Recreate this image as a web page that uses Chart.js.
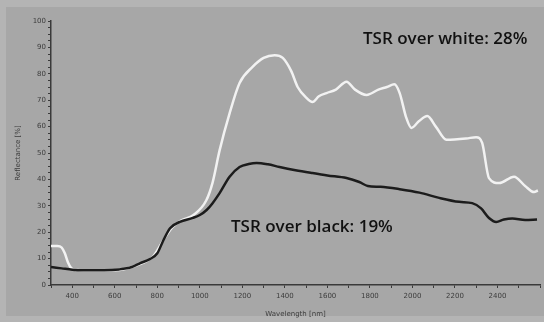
<!DOCTYPE html>
<html>
<head>
<meta charset="utf-8">
<script src="https://cdn.jsdelivr.net/npm/chart.js@4/dist/chart.umd.min.js"></script>
<style>
  html, body { margin: 0; padding: 0; background: #b4b4b4; }
  #wrap { width: 544px; height: 322px; }
</style>
</head>
<body>
<div id="wrap"><canvas id="spectrum" width="544" height="322"></canvas></div>
<script>
// Reflectance spectra
const whiteWavelengths = [300, 330, 350, 365, 380, 395, 420, 500, 600, 700, 780, 830, 870, 910, 970, 1030, 1060, 1093, 1140, 1187, 1248, 1300, 1352, 1390, 1430, 1460, 1500, 1530, 1560, 1596, 1640, 1690, 1730, 1784, 1840, 1880, 1915, 1940, 1970, 1995, 2030, 2070, 2110, 2160, 2253, 2300, 2328, 2360, 2408, 2478, 2530, 2572, 2590];
const whiteReflectance = [14.8, 14.8, 14.2, 12, 8.5, 6.4, 5.7, 5.5, 5.6, 7.4, 10.8, 17.2, 21.8, 24.3, 26.5, 32, 38.8, 51, 65, 76.5, 82.6, 86, 87, 86, 81, 75, 71, 69.3, 71.5, 72.7, 74, 77, 74, 72, 74, 75, 76, 72.7, 63.6, 59.5, 62, 64, 60, 55, 55.5, 56, 53.8, 40.5, 38.6, 41, 37.5, 35.2, 35.8];

const blackWavelengths = [300, 350, 400, 450, 550, 620, 680, 720, 765, 800, 826, 860, 906, 967, 1000, 1032, 1060, 1093, 1140, 1187, 1230, 1267, 1320, 1375, 1450, 1530, 1600, 1690, 1750, 1790, 1850, 1940, 2033, 2126, 2220, 2281, 2323, 2360, 2394, 2430, 2470, 2530, 2586];
const blackReflectance = [6.8, 6.3, 5.8, 5.6, 5.6, 5.9, 6.8, 8.3, 9.8, 12, 16.5, 21.5, 23.9, 25.4, 26.5, 28.4, 31, 34.8, 41, 44.7, 45.8, 46.2, 45.7, 44.7, 43.5, 42.4, 41.5, 40.5, 39, 37.5, 37.2, 36.3, 35, 33, 31.5, 31, 29, 25.4, 23.9, 24.8, 25.2, 24.6, 24.8];

const xLabelTicks = [400, 600, 800, 1000, 1200, 1400, 1600, 1800, 2000, 2200, 2400];
const yLabelTicks = [0, 10, 20, 30, 40, 50, 60, 70, 80, 90, 100];

const notes = [
  { text: 'TSR over white: 28%', x: 363, y: 39 },
  { text: 'TSR over black: 19%', x: 231, y: 227 }
];

function toPoints(xs, ys) {
  return xs.map((x, i) => ({ x: x, y: ys[i] }));
}

// Background frame and the TSR notes
const framePlugin = {
  id: 'frame',
  beforeDraw(chart) {
    const ctx = chart.ctx;
    ctx.save();
    ctx.fillStyle = '#b4b4b4';
    ctx.fillRect(0, 0, chart.width, chart.height);
    ctx.fillStyle = '#a7a7a7';
    ctx.fillRect(6, 7, chart.width - 6, chart.height - 13);
    ctx.restore();
  },
  afterDraw(chart) {
    const ctx = chart.ctx;
    ctx.save();
    ctx.fillStyle = '#111111';
    ctx.font = '600 17px "Open Sans"';
    ctx.textBaseline = 'middle';
    notes.forEach(n => ctx.fillText(n.text, n.x, n.y));
    ctx.restore();
  }
};

const tickFont = { family: 'DejaVu Sans', size: 7 };

new Chart(document.getElementById('spectrum'), {
  type: 'line',
  data: {
    datasets: [
      {
        label: 'over black',
        data: toPoints(blackWavelengths, blackReflectance),
        borderColor: '#1c1c1c',
        borderWidth: 2.5,
        pointRadius: 0,
        tension: 0.4,
        cubicInterpolationMode: 'monotone',
        order: 1
      },
      {
        label: 'over white',
        data: toPoints(whiteWavelengths, whiteReflectance),
        borderColor: '#f2f2f2',
        borderWidth: 2.5,
        pointRadius: 0,
        tension: 0.4,
        cubicInterpolationMode: 'monotone',
        order: 2
      }
    ]
  },
  options: {
    responsive: false,
    animation: false,
    layout: { padding: { left: 0, top: 21, right: 4, bottom: 0 } },
    plugins: { legend: { display: false }, tooltip: { enabled: false } },
    scales: {
      x: {
        type: 'linear',
        min: 300,
        max: 2600,
        afterFit(scale) { scale.height = 37; },
        ticks: {
          stepSize: 100,
          autoSkip: false,
          maxRotation: 0,
          color: '#3c3c3c',
          font: tickFont,
          padding: 4,
          callback: v => xLabelTicks.includes(v) ? String(v) : ''
        },
        grid: { drawOnChartArea: false, color: '#3a3a3a', tickLength: 3 },
        border: { color: '#3a3a3a', width: 1.5 },
        title: { display: true, text: 'Wavelength [nm]', color: '#3c3c3c', font: tickFont, padding: { top: 2 } }
      },
      y: {
        min: 0,
        max: 100,
        afterFit(scale) { scale.width = 51; },
        ticks: {
          stepSize: 2.5,
          autoSkip: false,
          color: '#3c3c3c',
          font: tickFont,
          padding: 2,
          callback: v => yLabelTicks.includes(v) ? String(v) : ''
        },
        grid: { drawOnChartArea: false, color: '#3a3a3a', tickLength: 3 },
        border: { color: '#3a3a3a', width: 1.5 },
        title: { display: true, text: 'Reflectance [%]', color: '#3c3c3c', font: tickFont, padding: { top: 14, bottom: 0 } }
      }
    }
  },
  plugins: [framePlugin]
});
</script>
</body>
</html>
